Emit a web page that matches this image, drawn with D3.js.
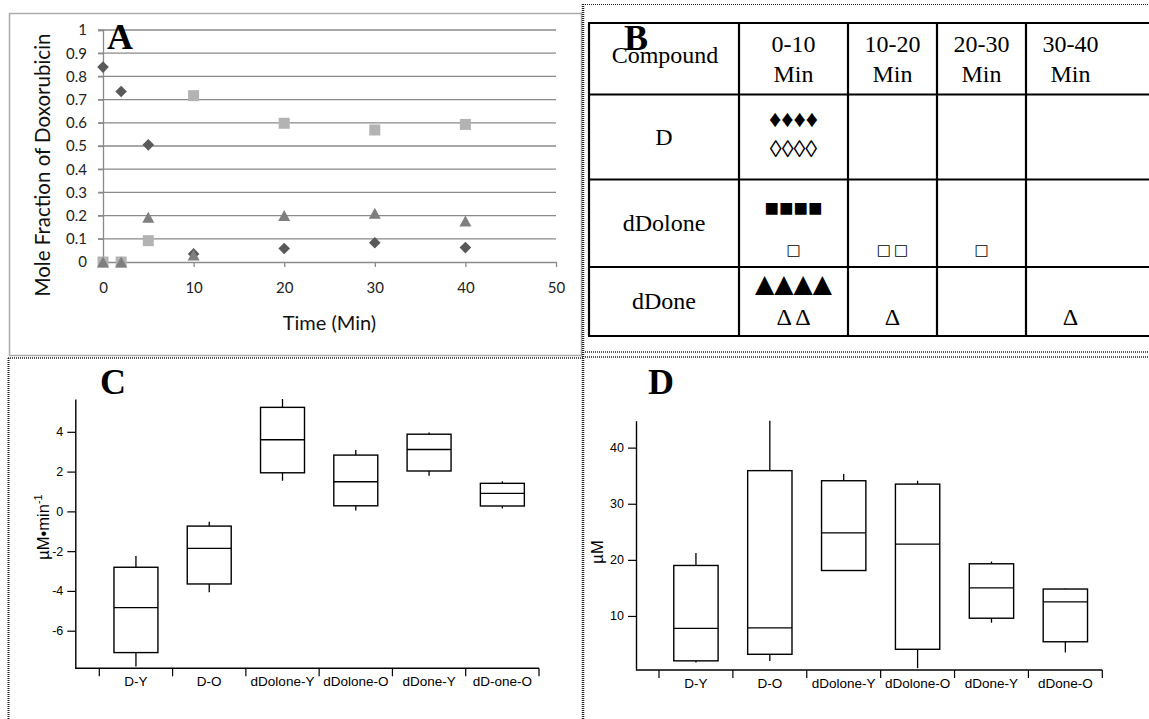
<!DOCTYPE html>
<html>
<head>
<meta charset="utf-8">
<script src="https://cdnjs.cloudflare.com/ajax/libs/d3/7.8.5/d3.min.js"></script>
<style>
  body { margin: 0; background: #fff; }
  svg { display: block; }
  .serif { font-family: "Liberation Serif", "Times New Roman", Tinos, "DejaVu Serif", serif; }
  .shape { font-family: "DejaVu Sans", sans-serif; }
</style>
</head>
<body>
<svg id="fig" width="1149" height="719"></svg>
<script>
// ---------- Panel A: mole fraction of doxorubicin species over time ----------
const timeMin = [0, 2, 5, 10, 20, 30, 40];
const fracD = [0.84, 0.735, 0.505, 0.035, 0.058, 0.083, 0.062];
const fracDolone = [0, 0, 0.092, 0.717, 0.598, 0.569, 0.593];
const fracDone = [0, 0, 0.193, 0.03, 0.2, 0.21, 0.177];
const timeTicks = [0, 10, 20, 30, 40, 50];
const fracTicks = [0, 0.1, 0.2, 0.3, 0.4, 0.5, 0.6, 0.7, 0.8, 0.9, 1];

// ---------- Panel B: detection table ----------
const compounds = ["D", "dDolone", "dDone"];
const intervals = ["0-10", "10-20", "20-30", "30-40"];
const filledCounts = [[4, 0, 0, 0], [4, 0, 0, 0], [4, 0, 0, 0]];
const openCounts = [[4, 0, 0, 0], [1, 2, 1, 0], [2, 1, 0, 1]];
const filledGlyph = ["\u2666", "\u25A0", "\u25B2"];
const openGlyph = ["\u25CA", "\u25A1", "\u0394"];
const openJoin = ["", "\u2009", " "];

// ---------- Panel C: rates ----------
const catsC = ["D-Y", "D-O", "dDolone-Y", "dDolone-O", "dDone-Y", "dD-one-O"];
const lowC = [-7.8, -4.07, 1.54, 0.05, 1.79, 0.15];
const q1C = [-7.1, -3.65, 1.94, 0.28, 2.03, 0.27];
const medC = [-4.84, -1.86, 3.6, 1.49, 3.11, 0.9];
const q3C = [-2.81, -0.74, 5.23, 2.83, 3.88, 1.41];
const highC = [-2.25, -0.52, 5.65, 3.08, 3.97, 1.51];
const ticksC = [-6, -4, -2, 0, 2, 4];

// ---------- Panel D: concentrations ----------
const catsD = ["D-Y", "D-O", "dDolone-Y", "dDolone-O", "dDone-Y", "dDone-O"];
const lowD = [1.7, 1.98, 18.1, 0.7, 8.8, 3.5];
const q1D = [2.0, 3.17, 18.1, 4.06, 9.6, 5.4];
const medD = [7.8, 7.86, 24.8, 22.8, 15.0, 12.5];
const q3D = [19.0, 35.9, 34.1, 33.5, 19.3, 14.8];
const highD = [21.2, 44.8, 35.3, 34.1, 19.7, 14.9];
const ticksD = [10, 20, 30, 40];

const svg = d3.select("#fig");

// ---------- panel frames ----------
svg.append("rect")
  .attr("x", 9.5).attr("y", 13.5).attr("width", 572).attr("height", 342)
  .attr("fill", "none").attr("stroke", "#ababab").attr("stroke-width", 1.5);

const dotted = (x1, y1, x2, y2, w) => svg.append("line")
  .attr("x1", x1).attr("y1", y1).attr("x2", x2).attr("y2", y2)
  .attr("stroke", "#222").attr("stroke-width", w || 1.5)
  .attr("stroke-dasharray", "1,1");
dotted(585, 4.5, 1149, 4.5, 1.2);
dotted(583, 4, 583, 719, 2.5);
dotted(585, 352, 1149, 352, 1.5);
dotted(8, 358, 583, 358, 1.5);
dotted(585, 357, 1149, 357, 1.5);
dotted(8.5, 358, 8.5, 719, 2);

// ---------- Panel A ----------
{
  const g = svg.append("g");
  const x = d3.scaleLinear().domain([0, 50]).range([103, 556]);
  const y = d3.scaleLinear().domain([0, 1]).range([262, 30]);
  const grid = "#8a8a8a";

  g.selectAll("line.grid").data(fracTicks.filter(d => d > 0)).join("line")
    .attr("x1", 98).attr("x2", x(50))
    .attr("y1", d => y(d)).attr("y2", d => y(d))
    .attr("stroke", grid).attr("stroke-width", 1.3);

  const yAxis = g.append("g").attr("transform", `translate(${x(0)},0)`)
    .call(d3.axisLeft(y).tickValues(fracTicks).tickSize(5).tickPadding(11)
      .tickFormat(d => (d === 0 || d === 1) ? String(d) : d.toFixed(1)));
  yAxis.select(".domain").attr("stroke", grid).attr("stroke-width", 1.3);
  yAxis.selectAll(".tick line").attr("stroke", grid).attr("stroke-width", 1.3);
  yAxis.selectAll("text").attr("font-family", "Lato").attr("font-size", 15).attr("fill", "#222");

  const xAxis = g.append("g").attr("transform", `translate(0,${y(0)})`)
    .call(d3.axisBottom(x).tickValues(timeTicks).tickSize(5).tickSizeOuter(0).tickPadding(15));
  xAxis.select(".domain").attr("stroke", grid).attr("stroke-width", 1.3);
  xAxis.selectAll(".tick line").attr("stroke", grid).attr("stroke-width", 1.3);
  xAxis.selectAll("text").attr("font-family", "Lato").attr("font-size", 15).attr("fill", "#222");

  g.append("text").attr("x", (x(0) + x(50)) / 2).attr("y", 330)
    .attr("text-anchor", "middle").attr("font-family", "Lato").attr("font-size", 20)
    .attr("fill", "#111").text("Time (Min)");
  g.append("text").attr("transform", "translate(50,165) rotate(-90)")
    .attr("text-anchor", "middle").attr("font-family", "Lato").attr("font-size", 20.5)
    .attr("fill", "#111").text("Mole Fraction of Doxorubicin");

  // markers: squares, diamonds, triangles
  const sq = 11, dia = 5.8, tri = 5.5;
  g.selectAll("rect.dolone").data(timeMin).join("rect")
    .attr("x", (d) => x(d) - sq / 2).attr("y", (d, i) => y(fracDolone[i]) - sq / 2)
    .attr("width", sq).attr("height", sq).attr("fill", "#b3b3b3");
  g.selectAll("path.d").data(timeMin).join("path")
    .attr("transform", (d, i) => `translate(${x(d)},${y(fracD[i])})`)
    .attr("d", `M0,${-dia}L${dia},0L0,${dia}L${-dia},0Z`).attr("fill", "#595959");
  g.selectAll("path.done").data(timeMin).join("path")
    .attr("transform", (d, i) => `translate(${x(d)},${y(fracDone[i])})`)
    .attr("d", `M0,${-tri}L${tri + 0.5},${tri}L${-tri - 0.5},${tri}Z`).attr("fill", "#7f7f7f");

  g.append("text").attr("class", "serif").attr("x", 107).attr("y", 49)
    .attr("font-weight", "bold").attr("font-size", 36)
    .text("A");
}

// ---------- Panel B ----------
{
  const g = svg.append("g");
  const colEdges = [589, 739, 848, 937, 1026, 1115];
  const rowEdges = [23, 94.5, 179.5, 267, 336];

  g.selectAll("line.h").data(rowEdges).join("line")
    .attr("x1", colEdges[0] - 1).attr("x2", 1149)
    .attr("y1", d => d).attr("y2", d => d)
    .attr("stroke", "#000").attr("stroke-width", 2.2);
  g.selectAll("line.v").data(colEdges.slice(0, 5)).join("line")
    .attr("x1", d => d).attr("x2", d => d)
    .attr("y1", rowEdges[0]).attr("y2", rowEdges[4])
    .attr("stroke", "#000").attr("stroke-width", 2.2);

  const colCenter = i => (colEdges[i] + colEdges[i + 1]) / 2;
  const txt = (x, y, s, size, cls) => g.append("text").attr("class", cls || "serif")
    .attr("x", x).attr("y", y).attr("text-anchor", "middle")
    .attr("font-size", size || 24).text(s);

  txt(colCenter(0) + 1, 63, "Compound");
  g.append("text").attr("class", "serif").attr("x", 624).attr("y", 50)
    .attr("font-weight", "bold").attr("font-size", 36).text("B");

  intervals.forEach((iv, j) => {
    txt(colCenter(j + 1), 52, iv);
    txt(colCenter(j + 1), 82, "Min");
  });

  const labelBase = [145, 231, 309];
  const filledBase = [127, 216, 292];
  const openBase = [157, 255, 325];
  const filledSize = [24, 24, 25];
  const filledCls = ["serif", "serif", "shape"];
  const openSize = [24, 15, 24];
  const openCls = ["serif", "shape", "serif"];
  compounds.forEach((c, i) => {
    txt(colCenter(0), labelBase[i], c);
    intervals.forEach((iv, j) => {
      const nf = filledCounts[i][j], no = openCounts[i][j];
      if (nf > 0) txt(colCenter(j + 1), filledBase[i],
        Array(nf).fill(filledGlyph[i]).join(""), filledSize[i], filledCls[i]);
      if (no > 0) txt(colCenter(j + 1), openBase[i],
        Array(no).fill(openGlyph[i]).join(openJoin[i]), openSize[i], openCls[i]);
    });
  });
}

// ---------- Box plot panels ----------
function boxPanel(opt) {
  const g = svg.append("g");
  const sans = "Liberation Sans";
  const y = d3.scaleLinear().domain(opt.domain).range(opt.yRange);
  const x = d3.scaleBand().domain(opt.cats).range(opt.xRange).paddingInner(0).paddingOuter(0);
  const bw = x.bandwidth() * 0.6;
  const yBase = opt.yRange[0];

  // y axis
  const ya = g.append("g").attr("transform", `translate(${opt.axisX},0)`)
    .call(d3.axisLeft(y).tickValues(opt.ticks).tickSize(8).tickSizeOuter(0).tickPadding(4)
      .tickFormat(d => String(d)));
  ya.select(".domain").attr("stroke", "#000").attr("stroke-width", 1.4);
  ya.selectAll(".tick line").attr("stroke", "#000").attr("stroke-width", 1.2);
  ya.selectAll("text").attr("font-family", sans).attr("font-size", 12.5).attr("fill", "#000");

  // x axis with boundary ticks
  g.append("line").attr("x1", opt.axisX).attr("x2", opt.xRange[1])
    .attr("y1", yBase).attr("y2", yBase).attr("stroke", "#000").attr("stroke-width", 1.4);
  const bounds = opt.cats.map(c => x(c)).concat([opt.xRange[1]]);
  g.selectAll("line.bt").data(bounds).join("line")
    .attr("x1", d => d).attr("x2", d => d).attr("y1", yBase).attr("y2", yBase + 8)
    .attr("stroke", "#000").attr("stroke-width", 1.2);
  g.selectAll("text.cat").data(opt.cats).join("text")
    .attr("x", d => x(d) + x.bandwidth() / 2).attr("y", yBase + 18)
    .attr("text-anchor", "middle").attr("font-family", sans).attr("font-size", 13.5)
    .text(d => d);

  // boxes
  opt.cats.forEach((c, i) => {
    const cx = x(c) + x.bandwidth() / 2;
    const ln = (x1, y1, x2, y2) => g.append("line")
      .attr("x1", x1).attr("y1", y1).attr("x2", x2).attr("y2", y2)
      .attr("stroke", "#000").attr("stroke-width", 1.3);
    ln(cx, y(opt.high[i]), cx, y(opt.q3[i]));
    ln(cx, y(opt.q1[i]), cx, y(opt.low[i]));
    g.append("rect").attr("x", cx - bw / 2).attr("y", y(opt.q3[i]))
      .attr("width", bw).attr("height", y(opt.q1[i]) - y(opt.q3[i]))
      .attr("fill", "none").attr("stroke", "#000").attr("stroke-width", 1.4);
    ln(cx - bw / 2, y(opt.med[i]), cx + bw / 2, y(opt.med[i]));
  });

  const t = g.append("text").attr("transform", `translate(${opt.titlePos[0]},${opt.titlePos[1]}) rotate(-90)`)
    .attr("text-anchor", "middle").attr("font-family", sans).attr("font-size", 16.5);
  t.append("tspan").text(opt.title);
  if (opt.titleSup) t.append("tspan").attr("dy", -7).attr("font-size", 11).text(opt.titleSup);

  g.append("text").attr("class", "serif").attr("x", opt.letterPos[0]).attr("y", opt.letterPos[1])
    .attr("font-weight", "bold").attr("font-size", 36)
    .text(opt.letter);
}

boxPanel({
  cats: catsC, low: lowC, q1: q1C, med: medC, q3: q3C, high: highC, ticks: ticksC,
  domain: [-7.89, 5.65], yRange: [668.3, 399], xRange: [99.3, 539], axisX: 75.3,
  title: "\u00b5M\u2022min", titleSup: "-1", titlePos: [49, 527],
  letter: "C", letterPos: [100, 394]
});

boxPanel({
  cats: catsD, low: lowD, q1: q1D, med: medD, q3: q3D, high: highD, ticks: ticksD,
  domain: [0.37, 44.8], yRange: [670, 420.7], xRange: [659, 1102.3], axisX: 636,
  title: "\u00b5M", titlePos: [603, 552],
  letter: "D", letterPos: [648, 394]
});
</script>
</body>
</html>
